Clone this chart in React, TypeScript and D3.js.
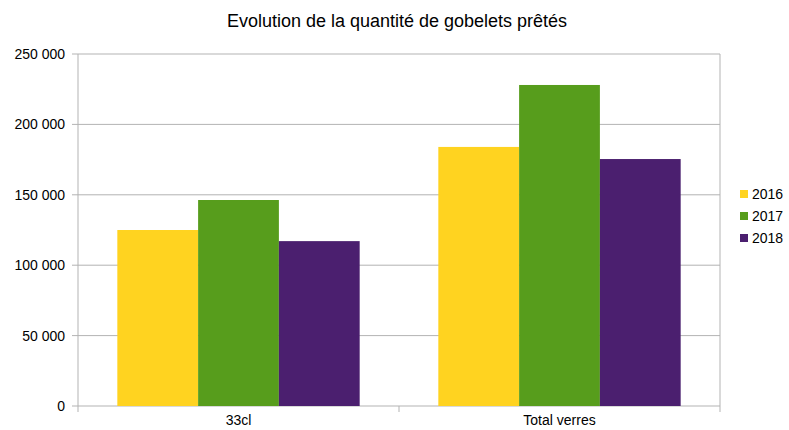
import React from "react";
import * as d3 from "d3";

const categories = ["33cl", "Total verres"];
const years = ["2016", "2017", "2018"];
const values2016 = [125000, 184000];
const values2017 = [146300, 228000];
const values2018 = [117100, 175400];
const yTicks = [0, 50000, 100000, 150000, 200000, 250000];
const colors = ["#ffd320", "#579d1c", "#4b1f6f"];
const title = "Evolution de la quantité de gobelets prêtés";

const W = 789, H = 430;
const left = 78, right = 720, top = 54, bottom = 406;
const font = "'Liberation Sans', Arial, sans-serif";

export default function App() {
  const series = [values2016, values2017, values2018];
  const x0 = d3.scaleBand().domain(categories).range([left, right]).paddingInner(0.245).paddingOuter(0.1225);
  const x1 = d3.scaleBand().domain(years).range([0, x0.bandwidth()]);
  const y = d3.scaleLinear().domain([0, 250000]).range([bottom, top]);
  const fmt = (v: number) => d3.format(",")(v).replace(/,/g, " ");
  const step = (right - left) / categories.length;
  const catBounds = d3.range(categories.length + 1).map((i) => left + i * step);

  return (
    <svg width={W} height={H} style={{ position: "absolute", left: 0, top: 0, background: "#fff" }} fontFamily={font}>
      <rect x={0} y={0} width={W} height={H} fill="#fff" />
      <text x={397} y={27} textAnchor="middle" fontSize={18} fill="#000">{title}</text>
      {yTicks.map((t) => (
        <g key={t}>
          <line x1={left - 6} x2={right} y1={y(t)} y2={y(t)} stroke="#b3b3b3" strokeWidth={1} />
          <text x={65} y={y(t) + 5} textAnchor="end" fontSize={14} fill="#000">{fmt(t)}</text>
        </g>
      ))}
      <line x1={left} x2={left} y1={top} y2={bottom} stroke="#b3b3b3" />
      <line x1={right} x2={right} y1={top} y2={bottom} stroke="#b3b3b3" />
      {catBounds.map((b, i) => (
        <line key={i} x1={b} x2={b} y1={bottom} y2={bottom + 6} stroke="#b3b3b3" />
      ))}
      {categories.map((c, ci) => (
        <g key={c}>
          {years.map((yr, si) => {
            const v = series[si][ci];
            return (
              <rect key={yr} x={(x0(c) as number) + (x1(yr) as number)} y={y(v)} width={x1.bandwidth()} height={y(0) - y(v)} fill={colors[si]} />
            );
          })}
          <text x={(x0(c) as number) + x0.bandwidth() / 2} y={430 - 5} textAnchor="middle" fontSize={14} fill="#000">{c}</text>
        </g>
      ))}
      {years.map((yr, i) => (
        <g key={yr} transform={`translate(740, ${190 + i * 22})`}>
          <rect x={0} y={0} width={8} height={8} fill={colors[i]} />
          <text x={12} y={9} fontSize={14} fill="#000">{yr}</text>
        </g>
      ))}
    </svg>
  );
}
